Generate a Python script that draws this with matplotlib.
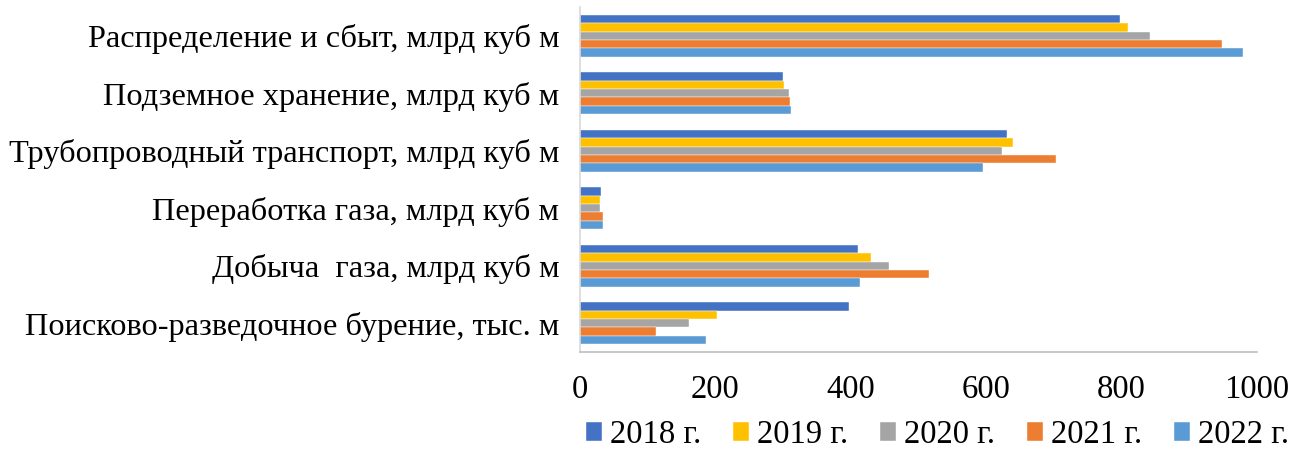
import matplotlib
matplotlib.use("Agg")
import matplotlib.pyplot as plt
import numpy as np

categories = [
    "Поисково-разведочное бурение, тыс. м",
    "Добыча  газа, млрд куб м",
    "Переработка газа, млрд куб м",
    "Трубопроводный транспорт, млрд куб м",
    "Подземное хранение, млрд куб м",
    "Распределение и сбыт, млрд куб м",
]
years = ["2018 г.", "2019 г.", "2020 г.", "2021 г.", "2022 г."]
v2018 = [398, 410, 31, 630, 300, 798]
v2019 = [202, 430, 30, 639, 301, 809]
v2020 = [161, 456, 29, 624, 308, 842]
v2021 = [112, 515, 34, 703, 310, 948]
v2022 = [186, 414, 34, 596, 312, 980]
series = [v2018, v2019, v2020, v2021, v2022]
colors = ["#4472C4", "#FFC000", "#A5A5A5", "#ED7D31", "#5B9BD5"]

plt.rcParams["font.family"] = ["Liberation Serif", "DejaVu Serif"]

fig = plt.figure(figsize=(13.06, 4.49), dpi=100)
ax = fig.add_axes([580 / 1306, 1 - 352 / 449, 677 / 1306, 345 / 449])

y = np.arange(len(categories))
bh = 0.146
for i, (vals, c, lab) in enumerate(zip(series, colors, years)):
    offs = (2 - i) * bh
    ax.barh(y + offs, vals, height=bh, color=c, label=lab,
            edgecolor="white", linewidth=0.3)

ax.set_xlim(0, 1000)
ax.set_ylim(-0.5, len(categories) - 0.5)
ax.set_yticks(y)
ax.set_yticklabels(categories, fontsize=23.3)
ax.set_xticks([0, 200, 400, 600, 800, 1000])
ax.tick_params(axis="x", labelsize=23.5, length=0, pad=16)
ax.tick_params(axis="y", length=0, pad=15)

for s in ["top", "right"]:
    ax.spines[s].set_visible(False)
ax.spines["left"].set_color("#d9d9d9")
ax.spines["left"].set_linewidth(1.2)
ax.spines["bottom"].set_color("#bfbfbf")
ax.spines["bottom"].set_linewidth(1.2)

ax.legend(loc="center", bbox_to_anchor=(0.528, -0.24), ncol=5, frameon=False,
          fontsize=23.5, handlelength=0.5, handleheight=0.55, handletextpad=0.25,
          columnspacing=0.96, borderpad=0)

fig.savefig("out.png", dpi=100)
